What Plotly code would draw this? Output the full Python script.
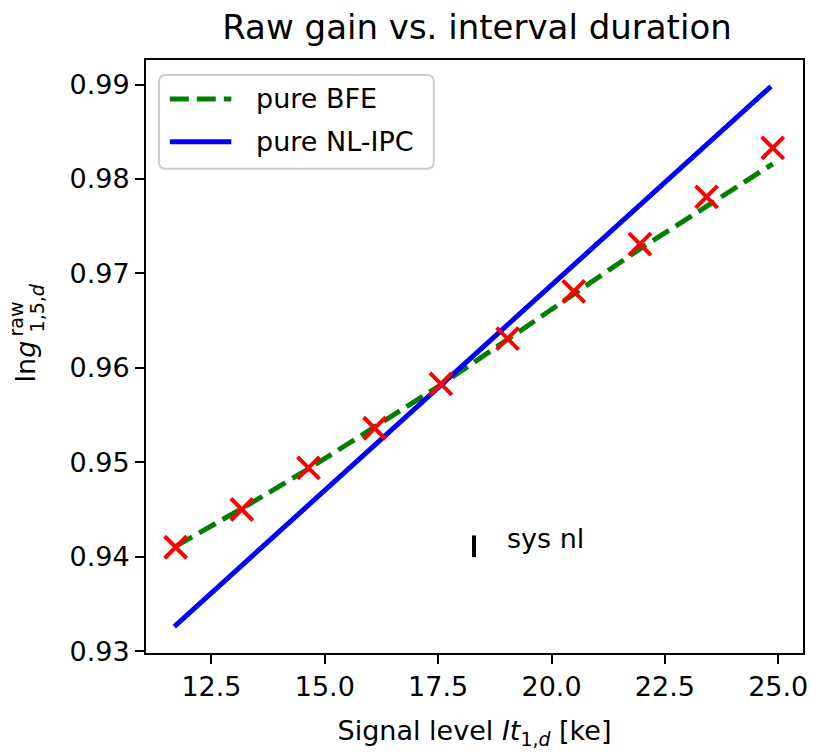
import plotly.graph_objects as go

# ---- data ----
signal_level = [11.71, 13.17, 14.64, 16.10, 17.56, 19.03, 20.49, 21.95, 23.42, 24.88]
measured = [0.9410, 0.9450, 0.9494, 0.9536, 0.9583, 0.9631, 0.9681, 0.9731, 0.9781, 0.9833]
pure_bfe = [0.9411, 0.9451, 0.9493, 0.9537, 0.9582, 0.9630, 0.9678, 0.9726, 0.9771, 0.9816]
nl_x = [11.68, 24.84]
pure_nlipc = [0.9326, 0.9898]
sys_x = [18.29]
sys_y = [0.9411]
sys_err = [0.00115]

x_ticks = [12.5, 15.0, 17.5, 20.0, 22.5, 25.0]
y_ticks = [0.93, 0.94, 0.95, 0.96, 0.97, 0.98, 0.99]

W, H = 819, 752
L, R, T, B = 146, 808, 60, 654
def px(x):
    return (x - L) / (R - L)
def py(y):
    return (B - y) / (B - T)

FONT = "DejaVu Sans"
GREEN = "#008000"
BLUE = "#0000ff"
RED = "#ff0000"

fig = go.Figure()
fig.add_trace(go.Scatter(x=signal_level, y=pure_bfe, mode="lines",
                         line=dict(color=GREEN, width=5, dash="19px,8px"),
                         name="pure BFE", showlegend=False))
fig.add_trace(go.Scatter(x=nl_x, y=pure_nlipc, mode="lines",
                         line=dict(color=BLUE, width=5),
                         name="pure NL-IPC", showlegend=False))
fig.add_trace(go.Scatter(x=signal_level, y=measured, mode="markers",
                         marker=dict(symbol="x-thin", size=22, color=RED,
                                     line=dict(color=RED, width=4)),
                         showlegend=False))
fig.add_trace(go.Scatter(x=sys_x, y=sys_y, mode="markers",
                         marker=dict(size=1, opacity=0),
                         error_y=dict(type="data", array=sys_err, visible=True,
                                      color="black", thickness=4, width=0),
                         showlegend=False))

annotations = []
annotations.append(dict(x=18.98, y=0.9419, xref="x", yref="y", text="sys nl",
                        showarrow=False, xanchor="left", yanchor="middle",
                        font=dict(family=FONT, size=27, color="black")))

# custom legend
lx0, lx1, ly0, ly1 = 159, 436, 75, 169
r = 7
path = (f"M {px(lx0+r)},{py(ly0)} L {px(lx1-r)},{py(ly0)} "
        f"Q {px(lx1)},{py(ly0)} {px(lx1)},{py(ly0+r)} "
        f"L {px(lx1)},{py(ly1-r)} Q {px(lx1)},{py(ly1)} {px(lx1-r)},{py(ly1)} "
        f"L {px(lx0+r)},{py(ly1)} Q {px(lx0)},{py(ly1)} {px(lx0)},{py(ly1-r)} "
        f"L {px(lx0)},{py(ly0+r)} Q {px(lx0)},{py(ly0)} {px(lx0+r)},{py(ly0)} Z")
shapes = [dict(type="path", path=path, xref="paper", yref="paper",
               line=dict(color="#cccccc", width=2), fillcolor="rgba(255,255,255,0.8)")]
legend_items = [("pure BFE", GREEN, "19px,8px", 99), ("pure NL-IPC", BLUE, "solid", 142)]
for name, col, dash, yy in legend_items:
    shapes.append(dict(type="line", xref="paper", yref="paper",
                       x0=px(170), x1=px(232), y0=py(yy), y1=py(yy),
                       line=dict(color=col, width=5, dash=dash)))
    annotations.append(dict(x=px(255), y=py(yy), xref="paper", yref="paper",
                            text=name, showarrow=False, xanchor="left", yanchor="middle",
                            font=dict(family=FONT, size=27, color="black")))

# y-axis label built from parts (stacked super/subscript)
annotations.append(dict(x=px(25), y=py(362), xref="paper", yref="paper",
                        text="ln<i>g</i>", textangle=-90, showarrow=False,
                        xanchor="center", yanchor="middle",
                        font=dict(family=FONT, size=27, color="black")))
annotations.append(dict(x=px(15), y=py(319), xref="paper", yref="paper",
                        text="raw", textangle=-90, showarrow=False,
                        xanchor="center", yanchor="middle",
                        font=dict(family=FONT, size=19, color="black")))
annotations.append(dict(x=px(36), y=py(308), xref="paper", yref="paper",
                        text="1,5,<i>d</i>", textangle=-90, showarrow=False,
                        xanchor="center", yanchor="middle",
                        font=dict(family=FONT, size=19, color="black")))

fig.update_layout(
    width=W, height=H,
    margin=dict(l=L, r=W - R, t=T, b=H - B),
    paper_bgcolor="white", plot_bgcolor="white",
    font=dict(family=FONT, size=27, color="black"),
    title=dict(text="Raw gain vs. interval duration", x=(L + R) / 2 / W, xanchor="center",
               y=1 - 27 / H, yanchor="middle", font=dict(family=FONT, size=34, color="black")),
    showlegend=False,
    shapes=shapes,
    annotations=annotations,
)
fig.update_xaxes(range=[11.056, 25.547], tickvals=x_ticks,
                 ticktext=[f"{v:.1f}" for v in x_ticks],
                 showgrid=False, zeroline=False, showline=True, linecolor="black",
                 linewidth=2, mirror=True, ticks="outside", ticklen=9, tickwidth=2,
                 tickcolor="black", tickfont=dict(family=FONT, size=27),
                 title=dict(text="Signal level <i>It</i><sub>1,<i>d</i></sub> [ke]",
                            font=dict(family=FONT, size=27), standoff=20))
fig.update_yaxes(range=[0.9298, 0.9926], tickvals=y_ticks,
                 ticktext=[f"{v:.2f}" for v in y_ticks],
                 showgrid=False, zeroline=False, showline=True, linecolor="black",
                 linewidth=2, mirror=True, ticks="outside", ticklen=9, tickwidth=2,
                 tickcolor="black", tickfont=dict(family=FONT, size=27))

fig.write_html("out.html")
